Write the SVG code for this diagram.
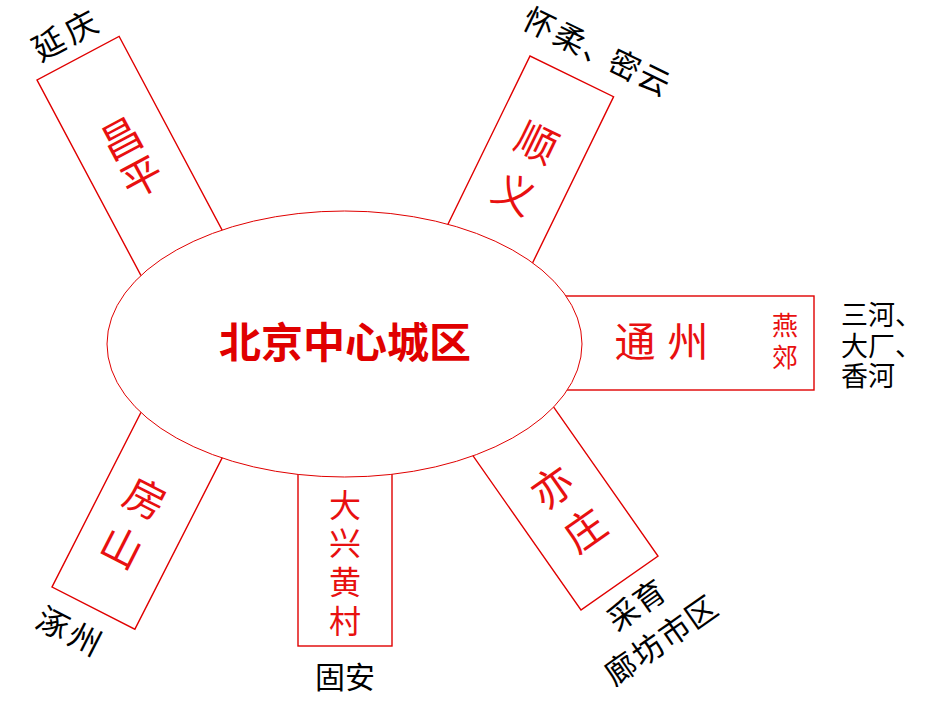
<svg xmlns="http://www.w3.org/2000/svg" width="932" height="707" viewBox="0 0 932 707">
<style>
.box{fill:#fff;stroke:#e00000;stroke-width:1.4}
.core{fill:#fff;stroke:#e00000;stroke-width:1}
.red{fill:#e81010;font-family:"Noto Sans CJK SC","Noto Sans CJK JP",sans-serif;text-anchor:middle}
.blk{fill:#000;font-family:"Noto Sans CJK SC","Noto Sans CJK JP",sans-serif}
.c{text-anchor:middle}
.title{fill:#e00000;font-family:"Noto Sans CJK SC","Noto Sans CJK JP",sans-serif;font-weight:bold;font-size:42px;text-anchor:middle}
</style>
<rect width="932" height="707" fill="#fff"/>
<g id="changping" transform="translate(37,80) rotate(-28)">
<rect class="box" x="0" y="0" width="93" height="260"/>
<text class="red" font-size="41" x="47" y="106">昌</text>
<text class="red" font-size="41" x="47" y="150">平</text>
<text class="blk c" font-size="32" x="27 64" y="-14.5">延庆</text>
</g>
<g id="shunyi" transform="translate(530,56) rotate(26)">
<rect class="box" x="0" y="0" width="93" height="240"/>
<text class="red" font-size="41" x="44" y="90">顺</text>
<text class="red" font-size="41" x="46" y="146">义</text>
<text class="blk c" font-size="31" x="-6 28 61 89 122" y="-22">怀柔、密云</text>
</g>
<g id="tongzhou">
<rect class="box" x="450" y="296" width="364" height="94"/>
<text class="red" font-size="41" x="635" y="357">通</text>
<text class="red" font-size="41" x="688" y="357">州</text>
<text class="red" font-size="26" x="785" y="335">燕</text>
<text class="red" font-size="26" x="785" y="367">郊</text>
<text class="blk" font-size="27" x="841" y="325">三河、</text>
<text class="blk" font-size="27" x="841" y="356">大厂、</text>
<text class="blk" font-size="27" x="841" y="386">香河</text>
</g>
<g id="fangshan" transform="translate(52,587) rotate(27)">
<rect class="box" x="0" y="-260" width="93" height="260"/>
<text class="red" font-size="41" x="43" y="-106">房</text>
<text class="red" font-size="41" x="44" y="-52">山</text>
<text class="blk c" font-size="32" x="17 53" y="43.5">涿州</text>
</g>
<g id="daxing">
<rect class="box" x="298" y="400" width="94" height="246"/>
<text class="red" font-size="32" x="345" y="517">大</text>
<text class="red" font-size="32" x="345" y="555">兴</text>
<text class="red" font-size="32" x="345" y="594">黄</text>
<text class="red" font-size="32" x="345" y="633">村</text>
<text class="blk c" font-size="30" x="345" y="688">固安</text>
</g>
<g id="yizhuang" transform="translate(581,610) rotate(-35)">
<rect class="box" x="0" y="-260" width="94" height="260"/>
<text class="red" font-size="41" x="47" y="-102">亦</text>
<text class="red" font-size="41" x="49" y="-48">庄</text>
<text class="blk c" font-size="31" x="32 64" y="39">采育</text>
<text class="blk c" font-size="31" x="-1 32 65 97" y="82">廊坊市区</text>
</g>
<g id="center">
<ellipse class="core" cx="344.5" cy="344" rx="237.5" ry="133"/>
<text class="title" x="345" y="358">北京中心城区</text>
</g>
</svg>
